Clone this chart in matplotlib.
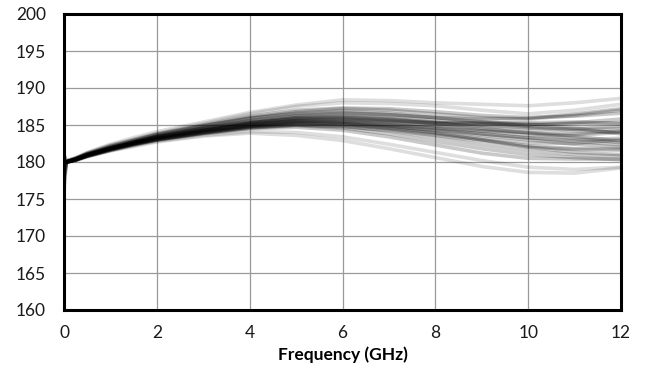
import matplotlib
matplotlib.use("Agg")
import matplotlib.pyplot as plt

freq_ghz = [0, 0.05, 0.25, 0.5, 1, 1.5, 2, 3, 4, 5, 6, 7, 8, 9, 10, 11, 12]

curve_01 = [179.0, 180.1, 180.6, 181.3, 182.4, 183.3, 184.1, 185.4, 186.7, 187.7, 188.4, 188.3, 188.0, 187.8, 187.6, 188.0, 188.6]
curve_02 = [180.0, 180.2, 180.5, 181.2, 182.3, 183.1, 183.9, 185.2, 186.5, 187.5, 188.0, 187.9, 187.6, 187.0, 186.5, 187.0, 187.8]
curve_03 = [177.0, 180.0, 180.5, 181.2, 182.2, 183.0, 183.8, 185.0, 186.2, 187.0, 187.3, 187.2, 186.8, 186.3, 186.0, 186.2, 186.6]
curve_04 = [181.0, 180.1, 180.5, 181.1, 182.1, 182.9, 183.7, 184.9, 186.0, 186.8, 187.2, 187.0, 186.5, 186.0, 185.8, 186.3, 187.0]
curve_05 = [178.0, 179.9, 180.4, 181.1, 182.0, 182.8, 183.6, 184.8, 185.9, 186.6, 186.9, 186.6, 186.0, 185.5, 185.0, 185.3, 185.8]
curve_06 = [180.0, 180.0, 180.4, 181.0, 181.9, 182.7, 183.5, 184.6, 185.5, 186.2, 186.4, 186.1, 185.6, 185.2, 185.0, 185.2, 185.3]
curve_07 = [176.0, 179.9, 180.4, 181.0, 181.9, 182.7, 183.4, 184.5, 185.4, 186.0, 186.2, 185.9, 185.4, 185.0, 184.6, 184.2, 184.0]
curve_08 = [180.5, 180.0, 180.3, 180.9, 181.8, 182.6, 183.3, 184.4, 185.3, 185.9, 186.0, 185.7, 185.2, 184.8, 184.5, 184.5, 184.8]
curve_09 = [179.5, 180.0, 180.3, 180.9, 181.8, 182.6, 183.3, 184.3, 185.2, 185.8, 185.9, 185.6, 185.3, 185.2, 185.3, 185.4, 185.2]
curve_10 = [180.0, 180.0, 180.4, 181.0, 181.9, 182.7, 183.4, 184.4, 185.3, 185.8, 185.8, 185.5, 185.2, 185.3, 185.2, 184.6, 183.8]
curve_11 = [178.5, 180.0, 180.4, 181.0, 181.9, 182.6, 183.3, 184.3, 185.1, 185.6, 185.7, 185.4, 184.9, 184.4, 184.0, 183.8, 184.2]
curve_12 = [180.0, 180.0, 180.3, 180.9, 181.8, 182.5, 183.2, 184.2, 185.0, 185.5, 185.5, 185.1, 184.5, 183.8, 183.2, 183.0, 183.2]
curve_13 = [177.5, 180.0, 180.3, 180.9, 181.7, 182.5, 183.1, 184.1, 184.9, 185.4, 185.3, 184.9, 184.3, 183.6, 183.0, 182.4, 182.0]
curve_14 = [180.0, 180.0, 180.3, 180.8, 181.7, 182.4, 183.1, 184.0, 184.8, 185.3, 185.2, 184.7, 184.0, 183.2, 182.6, 182.5, 183.0]
curve_15 = [181.0, 180.1, 180.4, 180.9, 181.8, 182.5, 183.2, 184.1, 184.9, 185.3, 185.2, 184.8, 184.3, 183.8, 183.3, 182.8, 182.3]
curve_16 = [179.0, 180.0, 180.3, 180.8, 181.6, 182.4, 183.0, 183.9, 184.7, 185.1, 185.0, 184.5, 183.8, 183.0, 182.2, 181.8, 181.8]
curve_17 = [180.0, 180.0, 180.3, 180.8, 181.7, 182.4, 183.0, 183.9, 184.6, 184.9, 184.6, 183.8, 182.8, 181.8, 181.0, 180.6, 180.3]
curve_18 = [178.0, 179.9, 180.2, 180.8, 181.6, 182.3, 182.9, 183.8, 184.5, 184.7, 184.3, 183.4, 182.3, 181.2, 180.5, 180.4, 180.4]
curve_19 = [180.0, 180.0, 180.3, 180.8, 181.6, 182.3, 183.0, 183.9, 184.6, 185.0, 184.8, 184.2, 183.3, 182.3, 181.5, 181.0, 180.8]
curve_20 = [179.5, 180.0, 180.2, 180.7, 181.5, 182.2, 182.8, 183.6, 184.1, 184.0, 183.4, 182.4, 181.3, 180.2, 179.3, 179.0, 179.3]
curve_21 = [180.0, 180.0, 180.2, 180.7, 181.5, 182.1, 182.7, 183.5, 183.9, 183.6, 182.9, 181.8, 180.6, 179.4, 178.6, 178.5, 179.2]
curve_22 = [180.0, 180.1, 180.5, 181.1, 182.1, 182.9, 183.7, 184.9, 185.9, 186.5, 186.7, 186.4, 186.0, 185.8, 185.9, 186.5, 187.2]
curve_23 = [180.0, 180.0, 180.4, 181.0, 181.9, 182.7, 183.5, 184.6, 185.6, 186.3, 186.6, 186.4, 186.0, 185.4, 184.8, 184.4, 184.5]
curve_24 = [180.0, 180.0, 180.3, 180.9, 181.8, 182.6, 183.3, 184.3, 185.1, 185.6, 185.6, 185.3, 184.8, 184.2, 183.6, 183.6, 184.0]
curve_25 = [180.0, 180.0, 180.3, 180.9, 181.8, 182.5, 183.2, 184.2, 185.0, 185.5, 185.4, 185.0, 184.6, 184.2, 184.0, 183.5, 182.8]
curve_26 = [180.0, 180.0, 180.4, 181.0, 181.9, 182.7, 183.4, 184.5, 185.4, 186.0, 186.1, 185.8, 185.3, 184.6, 183.9, 183.2, 182.6]
curve_27 = [180.0, 180.0, 180.3, 180.9, 181.7, 182.5, 183.1, 184.0, 184.8, 185.2, 185.1, 184.6, 183.9, 183.0, 182.0, 181.3, 181.0]
curve_28 = [180.0, 180.0, 180.3, 180.8, 181.7, 182.4, 183.0, 184.0, 184.7, 185.0, 184.8, 184.3, 183.6, 182.8, 182.0, 181.7, 181.6]

curves = [curve_01, curve_02, curve_03, curve_04, curve_05, curve_06, curve_07,
          curve_08, curve_09, curve_10, curve_11, curve_12, curve_13, curve_14,
          curve_15, curve_16, curve_17, curve_18, curve_19, curve_20, curve_21,
          curve_22, curve_23, curve_24, curve_25, curve_26, curve_27, curve_28]
light_curves = {0, 1, 19, 20}

x_ticks = [0, 2, 4, 6, 8, 10, 12]
y_ticks = [160, 165, 170, 175, 180, 185, 190, 195, 200]

plt.rcParams['font.family'] = ['Lato', 'DejaVu Sans']

fig = plt.figure(figsize=(6.49, 3.73), dpi=100)
ax = fig.add_axes([64/649, 1-310/373, (621-64)/649, (310-14)/373])

for i, c in enumerate(curves):
    a = 0.13 if i in light_curves else 0.21
    ax.plot(freq_ghz, c, color='black', alpha=a, lw=2.6, solid_capstyle='round')

ax.set_xlim(0, 12)
ax.set_ylim(160, 200)
ax.set_xticks(x_ticks)
ax.set_yticks(y_ticks)
ax.grid(True, color='#9a9a9a', lw=0.9)
ax.set_axisbelow(True)
ax.tick_params(length=0, labelsize=12.5, colors='#1a1a1a')
ax.tick_params(axis='y', pad=13)
ax.tick_params(axis='x', pad=11)
for s in ax.spines.values():
    s.set_linewidth(2.2)
    s.set_color('black')
ax.set_xlabel('Frequency (GHz)', fontsize=12.5, fontweight='bold', labelpad=4)

fig.savefig('out.png', dpi=100)
